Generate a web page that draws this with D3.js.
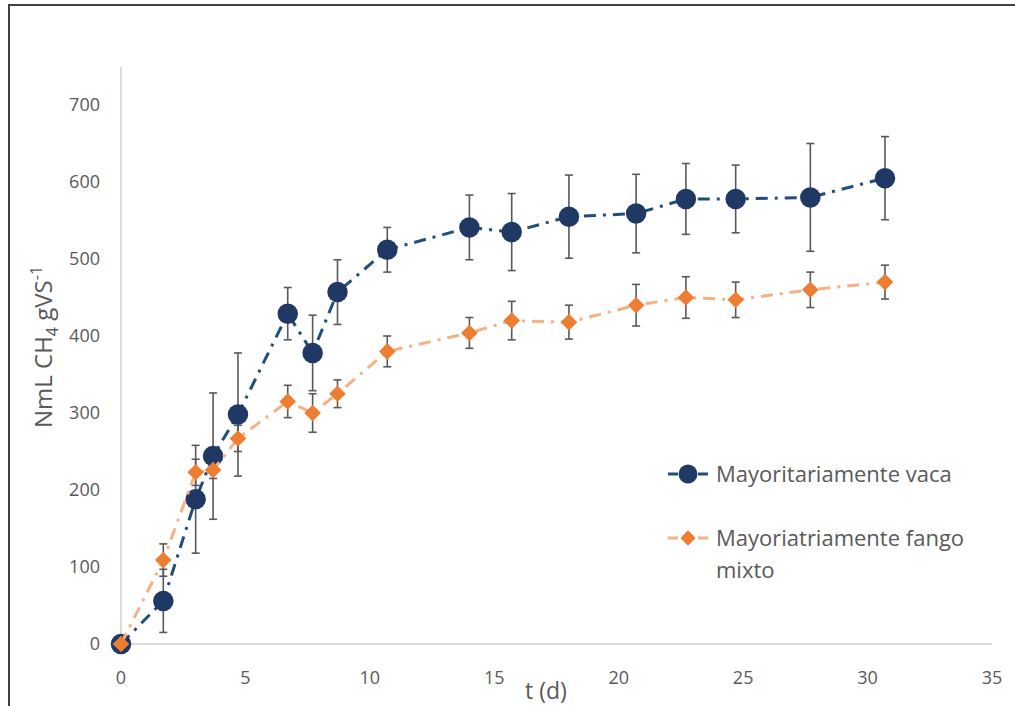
<!DOCTYPE html>
<html>
<head>
<meta charset="utf-8">
<script src="https://cdn.jsdelivr.net/npm/d3@7"></script>
<style>
  body { margin: 0; background: #fff; }
  text { font-family: "Open Sans", "Noto Sans", sans-serif; fill: #595959; }
</style>
</head>
<body>
<svg id="chart" width="1015" height="706"></svg>
<script>
// time in days
const days = [0, 1.7, 3, 3.7, 4.7, 6.7, 7.7, 8.7, 10.7, 14, 15.7, 18, 20.7, 22.7, 24.7, 27.7, 30.7];

const vaca    = [0, 56, 188, 244, 298, 429, 378, 457, 512, 541, 535, 555, 559, 578, 578, 580, 605];
const vacaErr = [0, 41, 70, 82, 80, 34, 49, 42, 29, 42, 50, 54, 51, 46, 44, 70, 54];

const fango    = [0, 109, 223, 226, 267, 315, 300, 325, 380, 404, 420, 418, 440, 450, 447, 460, 470];
const fangoErr = [0, 21, 17, 11, 17, 21, 25, 18, 20, 20, 25, 22, 27, 27, 23, 23, 22];

const xTicks = [0, 5, 10, 15, 20, 25, 30, 35];
const yTicks = [0, 100, 200, 300, 400, 500, 600, 700];

const seriesNames = ["Mayoritariamente vaca", "Mayoriatriamente fango mixto"];

const svg = d3.select("#chart");

// outer frame (cropped on the right / bottom)
svg.append("rect")
    .attr("x", 9).attr("y", 5)
    .attr("width", 1020).attr("height", 720)
    .attr("fill", "none")
    .attr("stroke", "#404040")
    .attr("stroke-width", 2);

const x = d3.scaleLinear().domain([0, 35]).range([121, 992]);
const y = d3.scaleLinear().domain([0, 700]).range([644, 105]);

// axis lines
svg.append("line")
    .attr("x1", x(0)).attr("x2", x(0))
    .attr("y1", y(0)).attr("y2", 67)
    .attr("stroke", "#d0d0d0").attr("stroke-width", 1.5);
svg.append("line")
    .attr("x1", x(0)).attr("x2", x(35))
    .attr("y1", y(0)).attr("y2", y(0))
    .attr("stroke", "#d0d0d0").attr("stroke-width", 1.5);

// tick labels
svg.append("g").selectAll("text")
    .data(yTicks)
    .join("text")
    .attr("x", 100)
    .attr("y", d => y(d))
    .attr("dy", "0.35em")
    .attr("text-anchor", "end")
    .style("font-size", "18px")
    .text(d => d);

svg.append("g").selectAll("text")
    .data(xTicks)
    .join("text")
    .attr("x", d => x(d))
    .attr("y", 678)
    .attr("dy", "0.35em")
    .attr("text-anchor", "middle")
    .style("font-size", "18px")
    .text(d => d);

// axis titles
svg.append("text")
    .attr("x", 546).attr("y", 699)
    .attr("text-anchor", "middle")
    .style("font-size", "23px")
    .text("t (d)");

const yTitle = svg.append("text")
    .attr("transform", "translate(52,347) rotate(-90)")
    .attr("text-anchor", "middle")
    .style("font-size", "24px");
yTitle.append("tspan").text("NmL CH");
yTitle.append("tspan").attr("dy", 6).style("font-size", "16px").text("4");
yTitle.append("tspan").attr("dy", -6).text(" gVS");
yTitle.append("tspan").attr("dy", -10).style("font-size", "16px").text("-1");

function series(vals, errs) {
    return days.map((t, i) => ({ t: t, v: vals[i], e: errs[i] }));
}

const seriesData = [
    { name: seriesNames[0], pts: series(vaca, vacaErr), line: "#1f4e79", mark: "#203864", shape: d3.symbolCircle, size: 330 },
    { name: seriesNames[1], pts: series(fango, fangoErr), line: "#f4b183", mark: "#ed7d31", shape: d3.symbolDiamond2, size: 175 }
];

const line = d3.line().x(d => x(d.t)).y(d => y(d.v));

// error bars
seriesData.forEach(s => {
    const eb = svg.append("g")
        .selectAll("g")
        .data(s.pts.filter(d => d.e > 0))
        .join("g")
        .attr("stroke", "#595959")
        .attr("stroke-width", 1.6);
    eb.append("line")
        .attr("x1", d => x(d.t)).attr("x2", d => x(d.t))
        .attr("y1", d => y(d.v - d.e)).attr("y2", d => y(d.v + d.e));
    eb.append("line")
        .attr("x1", d => x(d.t) - 4).attr("x2", d => x(d.t) + 4)
        .attr("y1", d => y(d.v + d.e)).attr("y2", d => y(d.v + d.e));
    eb.append("line")
        .attr("x1", d => x(d.t) - 4).attr("x2", d => x(d.t) + 4)
        .attr("y1", d => y(d.v - d.e)).attr("y2", d => y(d.v - d.e));
});

// lines + markers
seriesData.forEach(s => {
    svg.append("path")
        .datum(s.pts)
        .attr("d", line)
        .attr("fill", "none")
        .attr("stroke", s.line)
        .attr("stroke-width", 3)
        .attr("stroke-dasharray", "12,7,3,7");
    svg.append("g").selectAll("path")
        .data(s.pts)
        .join("path")
        .attr("transform", d => `translate(${x(d.t)},${y(d.v)})`)
        .attr("d", d3.symbol().type(s.shape).size(s.size))
        .attr("fill", s.mark);
});

// legend
const legend = svg.append("g");
const legendRows = [
    { s: seriesData[0], y: 474, lines: ["Mayoritariamente vaca"] },
    { s: seriesData[1], y: 538, lines: ["Mayoriatriamente fango", "mixto"] }
];
legendRows.forEach(r => {
    legend.append("line")
        .attr("x1", 668).attr("x2", 708)
        .attr("y1", r.y).attr("y2", r.y)
        .attr("stroke", r.s.line)
        .attr("stroke-width", 3)
        .attr("stroke-dasharray", "10,20,10");
    legend.append("path")
        .attr("transform", `translate(688,${r.y})`)
        .attr("d", d3.symbol().type(r.s.shape).size(r.s.size * 0.85))
        .attr("fill", r.s.mark);
    r.lines.forEach((l, i) => {
        legend.append("text")
            .attr("x", 716)
            .attr("y", r.y + i * 32)
            .attr("dy", "0.35em")
            .style("font-size", "22px")
            .text(l);
    });
});
</script>
</body>
</html>
